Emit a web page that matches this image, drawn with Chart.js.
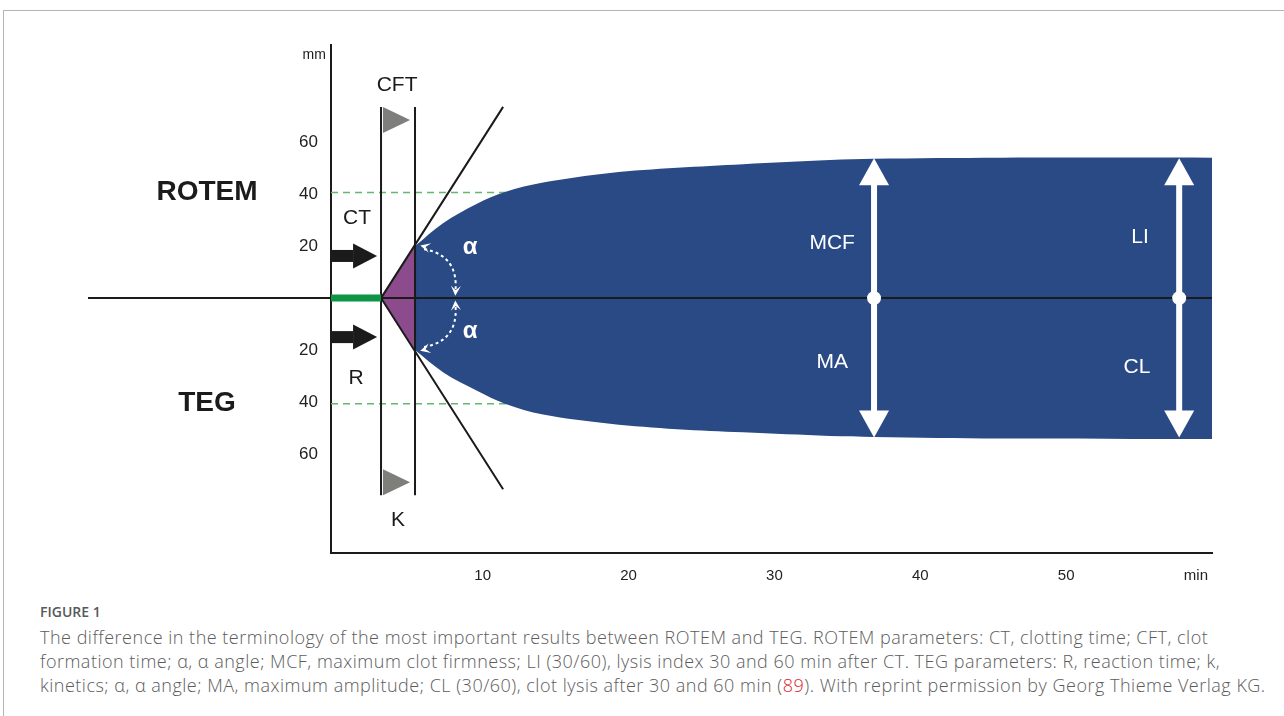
<!DOCTYPE html>
<html>
<head>
<meta charset="utf-8">
<script src="https://cdn.jsdelivr.net/npm/chart.js@4.4.0/dist/chart.umd.min.js"></script>
<style>
  body { margin: 0; background: #fff; width: 1284px; height: 716px; overflow: hidden; position: relative; }
  .frame { position: absolute; left: 3px; top: 10px; width: 1300px; height: 720px; border-top: 1px solid #b4b4b4; border-left: 1px solid #b4b4b4; }
  #wrap { position: absolute; left: 0; top: 0; width: 1284px; height: 600px; }
  .fig { position: absolute; left: 40px; top: 602px; font-family: "Open Sans", sans-serif; font-size: 14px; font-weight: 600; color: #585858; }
  .cap { position: absolute; left: 40px; top: 625px; width: 1240px; font-family: "Open Sans", sans-serif; font-size: 18px; font-weight: 300; letter-spacing: 0.5px; line-height: 24px; color: #5c5c5c; white-space: nowrap; }
  .cap .ref { color: #e0262a; }
</style>
</head>
<body>
<div class="frame"></div>
<div id="wrap"><canvas id="chart"></canvas></div>
<div class="fig">FIGURE 1</div>
<div class="cap">The difference in the terminology of the most important results between ROTEM and TEG. ROTEM parameters: CT, clotting time; CFT, clot<br>formation time; α, α angle; MCF, maximum clot firmness; LI (30/60), lysis index 30 and 60 min after CT. TEG parameters: R, reaction time; k,<br>kinetics; α, α angle; MA, maximum amplitude; CL (30/60), clot lysis after 30 and 60 min (<span class="ref">89</span>). With reprint permission by Georg Thieme Verlag KG.</div>

<script>
/* ═══════════════════════════════════════════
   ROTEM vs TEG — terminology diagram
   ═══════════════════════════════════════════ */

// ─── Data (time in min, amplitude in mm) ───
var xTicks = [10, 20, 30, 40, 50];
var yTicks = [-60, -40, -20, 20, 40, 60];
var unitAt = 58.9;              // where "min" sits on the time axis

var ctTime = 3.03;              // CT / R
var cftTime = 5.36;             // end of CFT / K
var cftAmp = 20;                // amplitude at end of CFT
var guideAmp = 40.6;            // dashed 40 mm guides
var markerTop = 73.5;           // top of CT / CFT markers
var markerBottom = -75.8;
var tangentEnd = 11.4;          // alpha tangent lines end here

var curveX   = [5.36, 7.28, 9.61, 11.53, 14.14, 18.73, 23.32, 27.85, 33.81, 36.83, 45.5, 60];
var rotemAmp = [20, 28.8, 36.3, 40.8, 44.4, 48.1, 50.1, 51.5, 53.1, 53.6, 54.0, 54.0];
var tegAmp   = [-20, -28.5, -35.6, -40.6, -44.8, -48.3, -50.4, -51.6, -53.0, -53.4, -54.0, -54.2];

var mcfTime = 36.83;            // MCF / MA
var liTime = 57.75;             // LI / CL
var ampTop = 53.8;
var ampBottom = -53.6;

var BLUE = '#2a4a85', PURPLE = '#8c4b8c', GREEN = '#0d9444', DASH = '#62b86e', INK = '#1b1b1b';
var FONT = '"Liberation Sans", Arial, sans-serif';

function pts(xs, ys) {
  return xs.map(function (x, i) { return { x: x, y: ys[i] }; });
}

// ─── Annotations drawn on top ───
var overlay = {
  id: 'overlay',
  afterDatasetsDraw: function (chart) {
    var ctx = chart.ctx, xs = chart.scales.x, ys = chart.scales.y;
    function px(v) { return xs.getPixelForValue(v); }
    function py(v) { return ys.getPixelForValue(v); }
    ctx.save();

    // black arrows CT / R
    [16.2, -15.0].forEach(function (a) {
      var x0 = px(-0.4), x1 = px(2.76), y = py(a);
      ctx.fillStyle = INK;
      ctx.fillRect(x0, y - 6, x1 - 24 - x0, 12);
      ctx.beginPath();
      ctx.moveTo(x1 - 24, y - 12.5); ctx.lineTo(x1, y); ctx.lineTo(x1 - 24, y + 12.5);
      ctx.closePath(); ctx.fill();
    });

    // grey flags CFT / K
    ctx.fillStyle = '#7e7e7b';
    var fx = px(ctTime) + 2, tipX = px(5.02);
    [[py(markerTop), 1], [py(markerBottom), -1]].forEach(function (f) {
      var y0 = f[0], d = f[1];
      ctx.beginPath();
      ctx.moveTo(fx, y0); ctx.lineTo(fx, y0 + d * 26); ctx.lineTo(tipX, y0 + d * 13);
      ctx.closePath(); ctx.fill();
    });

    // white double arrows MCF/MA and LI/CL
    ctx.fillStyle = '#fff';
    [mcfTime, liTime].forEach(function (t) {
      var x = px(t), yt = py(ampTop), yb = py(ampBottom);
      ctx.beginPath();
      ctx.moveTo(x, yt); ctx.lineTo(x + 15, yt + 27); ctx.lineTo(x - 15, yt + 27); ctx.closePath(); ctx.fill();
      ctx.beginPath();
      ctx.moveTo(x, yb); ctx.lineTo(x + 15, yb - 27); ctx.lineTo(x - 15, yb - 27); ctx.closePath(); ctx.fill();
      ctx.beginPath(); ctx.arc(x, py(0), 7, 0, Math.PI * 2); ctx.fill();
    });

    // alpha arcs (dotted, arrow at both ends)
    function head(tx, ty, fromX, fromY) {
      var ang = Math.atan2(ty - fromY, tx - fromX), L = 10, W = 5;
      ctx.beginPath();
      ctx.moveTo(tx, ty);
      ctx.lineTo(tx - L * Math.cos(ang) + W * Math.sin(ang), ty - L * Math.sin(ang) - W * Math.cos(ang));
      ctx.lineTo(tx - L * 0.55 * Math.cos(ang), ty - L * 0.55 * Math.sin(ang));
      ctx.lineTo(tx - L * Math.cos(ang) - W * Math.sin(ang), ty - L * Math.sin(ang) + W * Math.cos(ang));
      ctx.closePath(); ctx.fill();
    }
    [1, -1].forEach(function (s) {
      var p0 = [px(5.98), py(s * 18.8)], c = [px(8.3), py(s * 16.5)], p2 = [px(8.14), py(s * 3.1)];
      ctx.strokeStyle = '#fff'; ctx.lineWidth = 2; ctx.setLineDash([3, 3]);
      ctx.beginPath(); ctx.moveTo(p0[0], p0[1]); ctx.quadraticCurveTo(c[0], c[1], p2[0], p2[1]); ctx.stroke();
      ctx.setLineDash([]);
      head(px(5.72), py(s * 20.2), c[0], c[1]);
      head(px(8.12), py(s * 0.9), c[0], c[1]);
    });

    // texts
    ctx.textAlign = 'center';
    ctx.textBaseline = 'middle';
    var labels = [
      ['ROTEM', -8.9, 40.8, 'bold 28px', INK],
      ['TEG', -8.9, -40.4, 'bold 28px', INK],
      ['CFT', 4.13, 81.9, '21px', INK],
      ['K', 4.2, -85.4, '21px', INK],
      ['CT', 1.39, 30.8, '21px', INK],
      ['R', 1.32, -30.8, '21px', INK],
      ['\u03b1', 9.13, 19.6, 'bold 24px', '#fff'],
      ['\u03b1', 9.13, -12.8, 'bold 24px', '#fff'],
      ['MCF', 33.96, 21.2, '21px', '#fff'],
      ['MA', 33.96, -24.6, '21px', '#fff'],
      ['LI', 55.07, 23.5, '21px', '#fff'],
      ['CL', 54.86, -26.5, '21px', '#fff'],
      ['mm', -1.55, 93.5, '14px', INK]
    ];
    labels.forEach(function (l) {
      ctx.font = l[3] + ' ' + FONT;
      ctx.fillStyle = l[4];
      ctx.fillText(l[0], px(l[1]), py(l[2]));
    });
    ctx.restore();
  }
};

// ─── Datasets (first one is drawn on top) ───
var datasets = [
  { data: pts([-0.4, ctTime], [0, 0]), borderColor: GREEN, borderWidth: 7, borderCapStyle: 'butt' },
  { data: pts([mcfTime, mcfTime], [ampTop - 6, ampBottom + 6]), borderColor: '#fff', borderWidth: 6 },
  { data: pts([liTime, liTime], [ampTop - 6, ampBottom + 6]), borderColor: '#fff', borderWidth: 6 },
  { data: pts([-17.06, 60], [0, 0]), borderColor: INK, borderWidth: 2, clip: false },
  { data: pts([ctTime, ctTime], [markerTop, markerBottom]), borderColor: INK, borderWidth: 2 },
  { data: pts([cftTime, cftTime], [markerTop, markerBottom]), borderColor: INK, borderWidth: 2 },
  { data: pts([tangentEnd, ctTime, tangentEnd], [markerTop, 0, -markerTop]), borderColor: INK, borderWidth: 2 },
  { data: pts([ctTime, cftTime], [0, cftAmp]), borderWidth: 0, fill: '+1', backgroundColor: PURPLE },
  { data: pts([ctTime, cftTime], [0, -cftAmp]), borderWidth: 0 },
  { data: pts(curveX, rotemAmp), borderWidth: 0, fill: '+1', backgroundColor: BLUE, tension: 0.35 },
  { data: pts(curveX, tegAmp), borderWidth: 0, tension: 0.35 },
  { data: pts([-0.4, 13], [guideAmp, guideAmp]), borderColor: DASH, borderWidth: 1.5, borderDash: [7, 5] },
  { data: pts([-0.4, 13], [-guideAmp, -guideAmp]), borderColor: DASH, borderWidth: 1.5, borderDash: [7, 5] }
];
datasets.forEach(function (d) {
  d.pointRadius = 0;
  if (d.fill === undefined) d.fill = false;
  if (!d.borderColor) d.borderColor = 'rgba(0,0,0,0)';
});

new Chart(document.getElementById('chart'), {
  type: 'line',
  data: { datasets: datasets },
  options: {
    responsive: true,
    maintainAspectRatio: false,
    animation: false,
    events: [],
    layout: { padding: { top: 45, right: 72, left: 0, bottom: 0 } },
    plugins: { legend: { display: false }, tooltip: { enabled: false } },
    scales: {
      x: {
        type: 'linear', min: -0.4, max: 60,
        afterBuildTicks: function (s) { s.ticks = xTicks.concat([unitAt]).map(function (v) { return { value: v }; }); },
        afterFit: function (s) { s.height = 47; },
        grid: { display: false, drawTicks: false },
        border: { display: true, color: INK, width: 2 },
        ticks: {
          autoSkip: false, maxRotation: 0, padding: 14, color: '#222',
          font: { family: FONT, size: 15 },
          callback: function (v) { return v === unitAt ? 'min' : v; }
        }
      },
      y: {
        min: -98, max: 97.3,
        afterBuildTicks: function (s) { s.ticks = yTicks.map(function (v) { return { value: v }; }); },
        afterFit: function (s) { s.width = 331; },
        grid: { display: false, drawTicks: false },
        border: { display: true, color: INK, width: 2 },
        ticks: {
          padding: 13, color: '#222',
          font: { family: FONT, size: 17 },
          callback: function (v) { return Math.abs(v); }
        }
      }
    }
  },
  plugins: [overlay]
});
</script>
</body>
</html>
